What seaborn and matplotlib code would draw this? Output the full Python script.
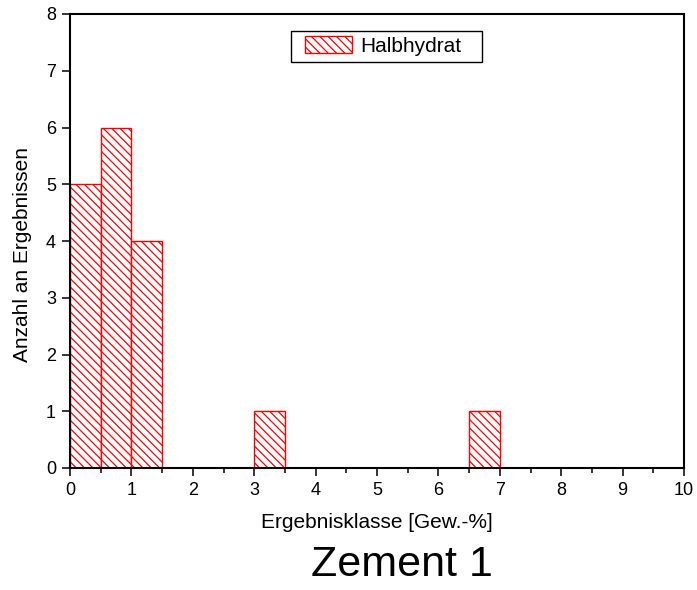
import matplotlib
matplotlib.use("Agg")
import matplotlib.pyplot as plt
import matplotlib.patches as mpatches
from matplotlib.ticker import MultipleLocator
import seaborn as sns
import pandas as pd

# Klassen (linke Kante) und Anzahl an Ergebnissen
klassen_start = [0.0, 0.5, 1.0, 3.0, 6.5]
anzahl = [5, 6, 4, 1, 1]
klassenbreite = 0.5
serie = "Halbhydrat"

sns.set_style("ticks")
plt.rcParams["font.family"] = ["Liberation Sans", "DejaVu Sans"]
plt.rcParams["hatch.color"] = "red"
plt.rcParams["hatch.linewidth"] = 0.9
plt.rcParams["text.color"] = "black"
plt.rcParams["axes.labelcolor"] = "black"

df = pd.DataFrame({"mitte": [k + klassenbreite / 2 for k in klassen_start], "anzahl": anzahl})

fig = plt.figure(figsize=(6.97, 5.90), dpi=100)
fig.patch.set_facecolor("white")
ax = fig.add_axes([70 / 697, 1 - 468 / 590, 614 / 697, 454 / 590])

sns.histplot(data=df, x="mitte", weights="anzahl", binwidth=klassenbreite,
             binrange=(0, 7), ax=ax)

# Balken stylen, leere Klassen entfernen
for p in list(ax.patches):
    if p.get_height() == 0:
        p.remove()
        continue
    p.set_facecolor("white")
    p.set_edgecolor("red")
    p.set_alpha(1)
    p.set_linewidth(1.0)
    p.set_hatch("\\\\\\\\")

ax.set_xlim(0, 10)
ax.set_ylim(0, 8)
ax.xaxis.set_major_locator(MultipleLocator(1))
ax.xaxis.set_minor_locator(MultipleLocator(0.5))
ax.yaxis.set_major_locator(MultipleLocator(1))

for s in ax.spines.values():
    s.set_visible(True)
    s.set_color("black")
    s.set_linewidth(1.5)
ax.tick_params(which="major", direction="out", length=6, width=1.1, labelsize=13,
               colors="black", pad=4, top=False, right=False)
ax.tick_params(which="minor", axis="x", direction="out", length=3.5, width=1.1, colors="black")

ax.set_xlabel("Ergebnisklasse [Gew.-%]", fontsize=15, color="black")
ax.set_ylabel("Anzahl an Ergebnissen", fontsize=15, color="black")
ax.xaxis.set_label_coords(0.5, (468 - 522) / 454)
ax.xaxis.label.set_va("center")
ax.yaxis.set_label_coords((22 - 70) / 614, (468 - 255) / 454)
ax.yaxis.label.set_va("center")

# Legende ohne eigenen Rahmen, Rahmen separat wie im Original
handle = mpatches.Patch(facecolor="white", edgecolor="red", hatch="\\\\\\\\", linewidth=1.0, label=serie)
leg = ax.legend(handles=[handle], loc="center left", bbox_to_anchor=((305 - 70) / 614, (468 - 46) / 454),
                fontsize=15, frameon=False, handlelength=2.25, handleheight=0.9,
                handletextpad=0.4, borderpad=0, borderaxespad=0)
for t in leg.get_texts():
    t.set_color("black")
rahmen = mpatches.Rectangle(((291 - 70) / 614, (468 - 62) / 454), 191 / 614, 31 / 454,
                            transform=ax.transAxes, facecolor="white", edgecolor="black",
                            linewidth=1.0, zorder=4, clip_on=False)
ax.add_patch(rahmen)
leg.set_zorder(5)

fig.text(402 / 697, 1 - 565 / 590, "Zement 1", fontsize=31, ha="center", va="center", color="black")

fig.savefig("out.png", dpi=100)
